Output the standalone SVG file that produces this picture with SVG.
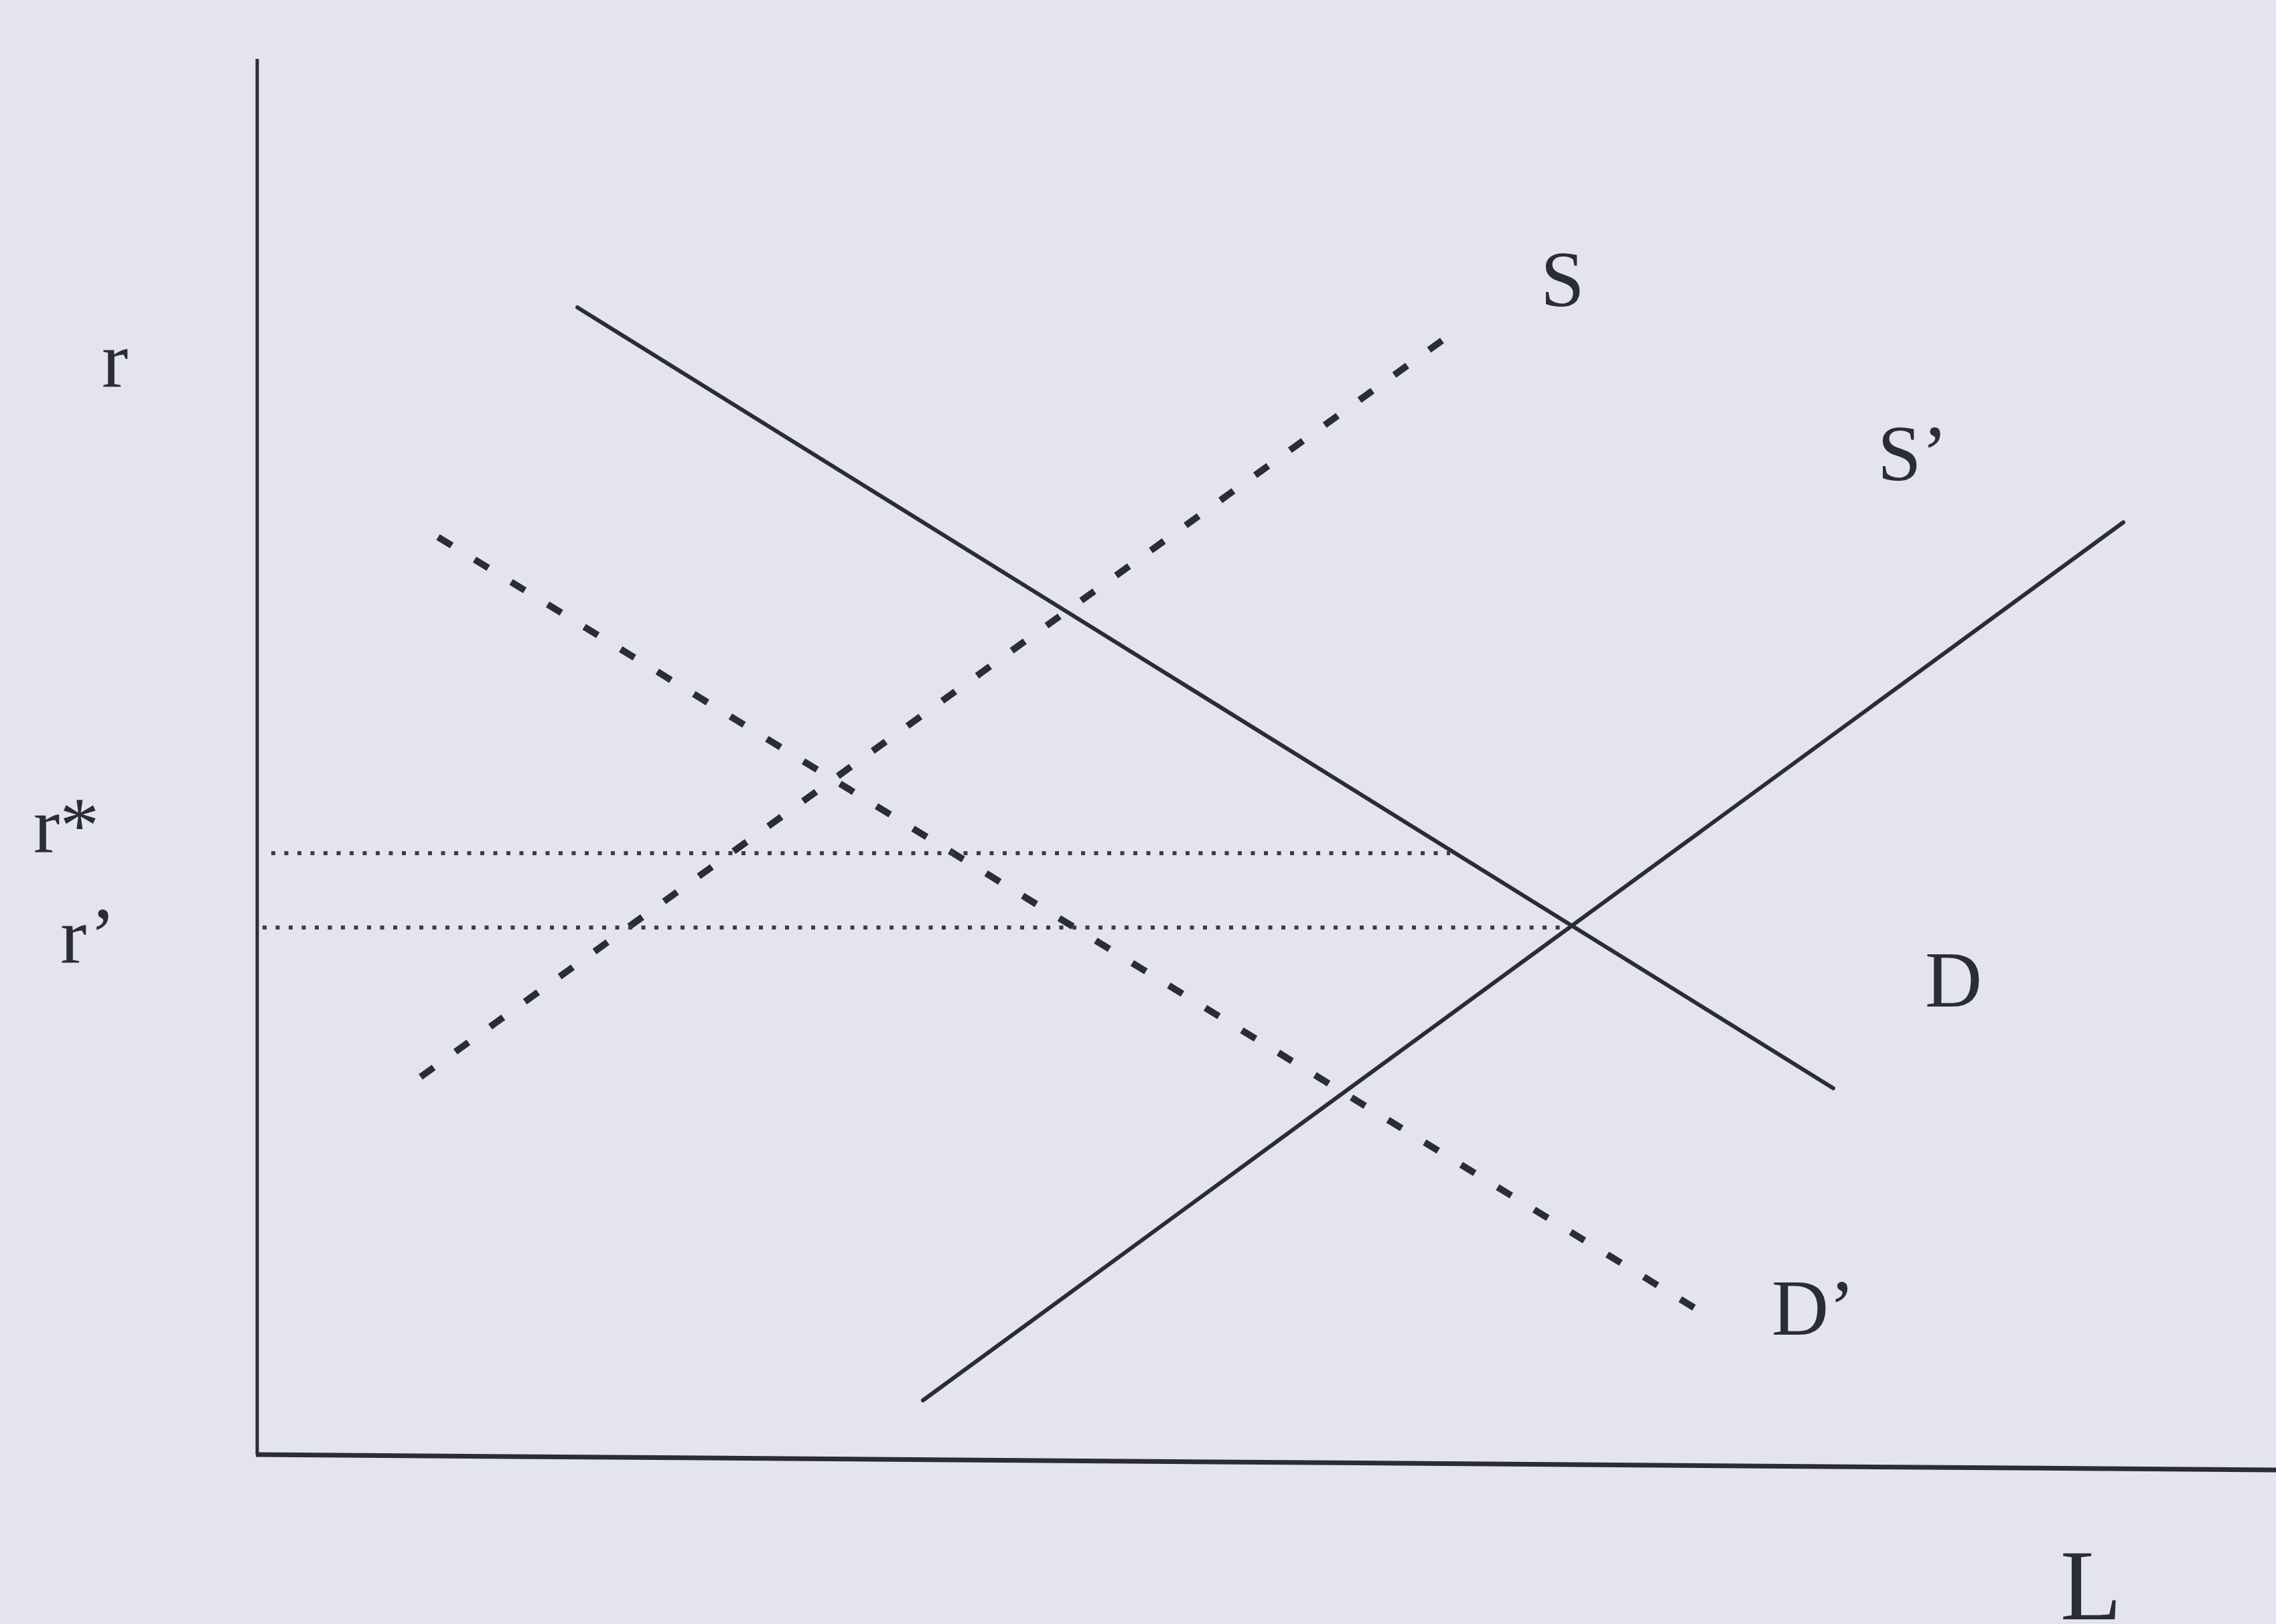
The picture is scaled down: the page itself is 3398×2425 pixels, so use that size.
<svg xmlns="http://www.w3.org/2000/svg" width="3398" height="2425" viewBox="0 0 3398 2425">
<style>
.bg{fill:#e4e4ee}
.solid{stroke:#2a2c3a;stroke-width:6;fill:none;stroke-linecap:round}
.axis{stroke:#2a2c3a;fill:none}
.dash{stroke:#2a2c3a;stroke-width:10;fill:none;stroke-dasharray:24 40}
.dot{stroke:#3a3c4a;stroke-width:6;fill:none;stroke-dasharray:6 13.5}
.lbl{font-family:"Liberation Serif","Times New Roman",serif;font-size:118px;fill:#2a2c3a}
</style>
<rect class="bg" x="0" y="0" width="3398" height="2425"/>
<g id="axes">
<line class="axis" x1="384" y1="88" x2="384" y2="2172" stroke-width="5"/>
<line class="axis" x1="382" y1="2172" x2="3398" y2="2195" stroke-width="7"/>
</g>
<g id="connectors">
<line id="D" class="solid" x1="862" y1="459" x2="2737" y2="1625"/>
<line id="S-prime" class="solid" x1="1378" y1="2091" x2="3170" y2="780"/>
<line id="S" class="dash" x1="628" y1="1608" x2="2173" y2="494"/>
<line id="D-prime" class="dash" x1="654" y1="802" x2="2546" y2="1963"/>
<line id="r-star-line" class="dot" x1="405" y1="1274" x2="2165" y2="1274"/>
<line id="r-prime-line" class="dot" x1="392" y1="1385" x2="2340" y2="1385"/>
</g>
<g id="labels">
<text id="lbl-r" class="lbl" x="152" y="577">r</text>
<text id="lbl-rstar" class="lbl" x="50" y="1272">r*</text>
<text id="lbl-rprime" class="lbl" x="90" y="1437">r’</text>
<text id="lbl-S" class="lbl" x="2300" y="457">S</text>
<text id="lbl-Sprime" class="lbl" x="2803" y="717">S’</text>
<text id="lbl-D" class="lbl" x="2874" y="1503">D</text>
<text id="lbl-Dprime" class="lbl" x="2645" y="1993">D’</text>
<text id="lbl-L" class="lbl" x="3076" y="2418" style="font-size:150px">L</text>
</g>
</svg>
